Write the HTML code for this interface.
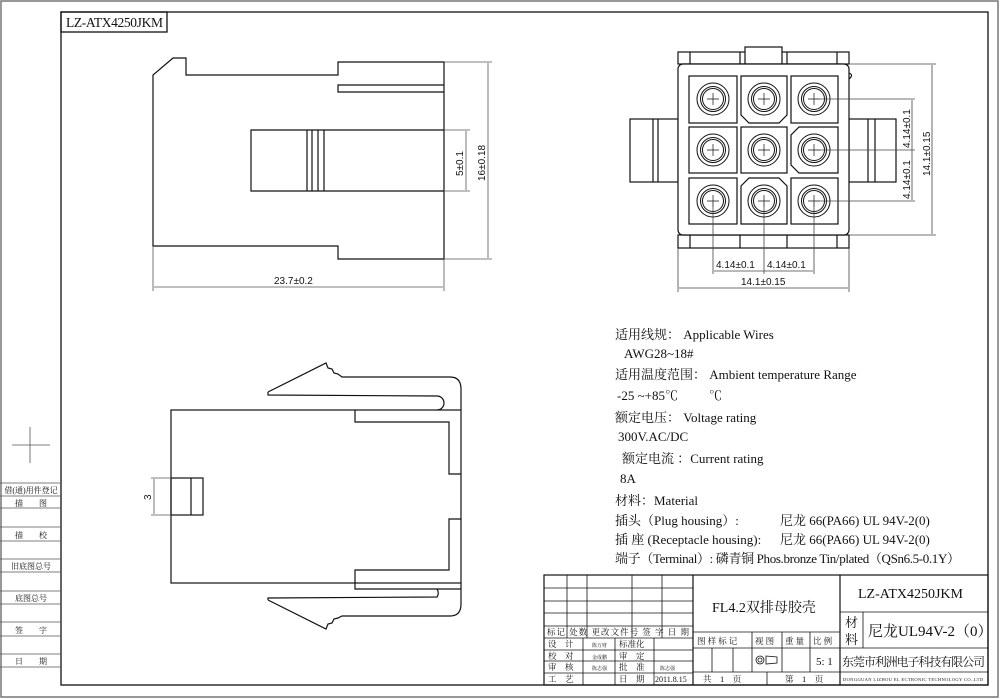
<!DOCTYPE html>
<html><head><meta charset="utf-8"><style>
html,body{margin:0;padding:0;background:#fff;}
svg{display:block;}
text{font-family:"Liberation Serif","Noto Serif CJK SC","Noto Sans CJK SC",serif;fill:#111;}
.s{font-family:"Liberation Sans",sans-serif;}
</style></head><body>
<svg width="1000" height="699" viewBox="0 0 1000 699" xmlns="http://www.w3.org/2000/svg">
<defs>
<g id="c" fill="none" stroke="#111" stroke-width="1"><circle r="16"/><circle r="12.5"/><circle r="10.5"/><path d="M-6,0 H6 M0,-6 V6" stroke-width="0.7"/></g>
</defs>
<g fill="none" stroke="#777" stroke-width="1.5">
<rect x="1" y="1" width="997" height="696"/>
</g>
<g fill="none" stroke="#111" stroke-width="1.3">
<rect x="61" y="12" width="927" height="673"/>
<rect x="61" y="12" width="106" height="20"/>
</g>
<text x="66" y="27" font-size="13.5" textLength="97">LZ-ATX4250JKM</text>

<!-- left strip -->
<g stroke="#555" stroke-width="0.8" fill="none">
<line x1="30" y1="427" x2="30" y2="463"/><line x1="12" y1="445" x2="50" y2="445"/>
<line x1="0" y1="483" x2="61" y2="483"/><line x1="0" y1="496" x2="61" y2="496"/><line x1="0" y1="508" x2="61" y2="508"/>
<line x1="0" y1="527" x2="61" y2="527"/><line x1="0" y1="541" x2="61" y2="541"/>
<line x1="0" y1="559" x2="61" y2="559"/><line x1="0" y1="572" x2="61" y2="572"/>
<line x1="0" y1="591" x2="61" y2="591"/><line x1="0" y1="604" x2="61" y2="604"/>
<line x1="0" y1="622" x2="61" y2="622"/><line x1="0" y1="636" x2="61" y2="636"/>
<line x1="0" y1="654" x2="61" y2="654"/><line x1="0" y1="667" x2="61" y2="667"/>
</g>
<g font-size="8" text-anchor="middle">
<text x="31" y="493">借(通)用件登记</text><text x="31" y="506">描　　图</text>
<text x="31" y="538">描　　校</text><text x="31" y="569">旧底图总号</text>
<text x="31" y="601">底图总号</text><text x="31" y="633">签　　字</text>
<text x="31" y="664">日　　期</text>
</g>

<!-- top-left view -->
<g fill="none" stroke="#111" stroke-width="1.2">
<path d="M153,246 L153,75 L173,58 L186,58 L186,75 L338,75 L338,62 L444,62 L444,259 L338,259 L338,246 Z"/>
<path d="M444,85 L338,85 L338,92 L444,92"/>
<path d="M444,130 L251,130 L251,191 L444,191"/>
<line x1="307" y1="130" x2="307" y2="191"/><line x1="312" y1="130" x2="312" y2="191"/>
<line x1="318" y1="130" x2="318" y2="191"/><line x1="324" y1="130" x2="324" y2="191"/>
</g>
<g fill="none" stroke="#555" stroke-width="0.8">
<line x1="444" y1="130" x2="470" y2="130"/><line x1="444" y1="191" x2="470" y2="191"/>
<line x1="466" y1="131" x2="466" y2="190"/>
<line x1="444" y1="62" x2="492" y2="62"/><line x1="444" y1="259" x2="492" y2="259"/>
<line x1="488" y1="63" x2="488" y2="258"/>
<line x1="153" y1="246" x2="153" y2="291"/><line x1="444" y1="259" x2="444" y2="291"/>
<line x1="154" y1="287" x2="443" y2="287"/>
</g>
<g font-size="10">
<text class="s" x="274" y="284">23.7±0.2</text>
<text class="s" transform="translate(463,176) rotate(-90)">5±0.1</text>
<text class="s" transform="translate(485,181) rotate(-90)">16±0.18</text>
</g>

<!-- front view -->
<g fill="none" stroke="#111" stroke-width="1.2">
<rect x="678" y="52" width="171" height="12"/>
<line x1="690" y1="52" x2="690" y2="64"/><line x1="740" y1="52" x2="740" y2="64"/>
<line x1="787" y1="52" x2="787" y2="64"/><line x1="837" y1="52" x2="837" y2="64"/>
<rect x="745" y="47" width="37" height="17" fill="#fff"/>
<rect x="678" y="235" width="171" height="13"/>
<line x1="690" y1="235" x2="690" y2="248"/><line x1="740" y1="235" x2="740" y2="248"/>
<line x1="787" y1="235" x2="787" y2="248"/><line x1="837" y1="235" x2="837" y2="248"/>
<rect x="630" y="119" width="48" height="63"/>
<line x1="653" y1="119" x2="653" y2="182"/><line x1="658" y1="119" x2="658" y2="182"/>
<rect x="849" y="119" width="47" height="63"/>
<line x1="868" y1="119" x2="868" y2="182"/><line x1="875" y1="119" x2="875" y2="182"/>
<rect x="678" y="64" width="171" height="171" rx="5" fill="#fff"/>
<path d="M849,73 q5,2 0,6"/>
<rect x="689" y="76" width="48" height="47"/>
<path d="M741,76 L787,76 L787,115 L779,123 L749,123 L741,115 Z"/>
<rect x="791" y="76" width="47" height="47"/>
<rect x="689" y="127" width="48" height="46"/>
<rect x="741" y="127" width="46" height="46"/>
<path d="M799,127 L838,127 L838,173 L799,173 L791,165 L791,135 Z"/>
<rect x="689" y="178" width="48" height="46"/>
<path d="M749,178 L779,178 L787,186 L787,224 L741,224 L741,186 Z"/>
<rect x="791" y="178" width="47" height="46"/>
</g>
<use href="#c" x="713" y="99"/><use href="#c" x="764" y="99"/><use href="#c" x="814" y="99"/>
<use href="#c" x="713" y="150"/><use href="#c" x="764" y="150"/><use href="#c" x="814" y="150"/>
<use href="#c" x="713" y="201"/><use href="#c" x="764" y="201"/><use href="#c" x="814" y="201"/>
<g fill="none" stroke="#444" stroke-width="0.8">
<line x1="814" y1="99" x2="915" y2="99"/><line x1="814" y1="150" x2="915" y2="150"/><line x1="814" y1="201" x2="915" y2="201"/>
<line x1="912" y1="100" x2="912" y2="200"/>
<line x1="849" y1="64" x2="936" y2="64"/><line x1="849" y1="235" x2="936" y2="235"/>
<line x1="932" y1="65" x2="932" y2="234"/>
<line x1="713" y1="201" x2="713" y2="274"/><line x1="764" y1="201" x2="764" y2="274"/><line x1="814" y1="201" x2="814" y2="274"/>
<line x1="714" y1="271" x2="813" y2="271"/>
<line x1="678" y1="248" x2="678" y2="292"/><line x1="849" y1="248" x2="849" y2="292"/>
<line x1="679" y1="288" x2="848" y2="288"/>
</g>
<g font-size="10">
<text class="s" x="716" y="268">4.14±0.1</text>
<text class="s" x="767" y="268">4.14±0.1</text>
<text class="s" x="741" y="285">14.1±0.15</text>
<text class="s" transform="translate(910,148) rotate(-90)">4.14±0.1</text>
<text class="s" transform="translate(910,199) rotate(-90)">4.14±0.1</text>
<text class="s" transform="translate(930,176) rotate(-90)">14.1±0.15</text>
</g>

<!-- bottom view -->
<g fill="none" stroke="#111" stroke-width="1.2">
<rect x="171" y="410" width="290" height="173"/>
<path d="M355,410 L355,422 L449,422 L449,474 L461,474"/>
<path d="M461,519 L449,519 L449,570 L355,570 L355,589 L461,589"/>
<path d="M268,392 L326,363 L328,368 L332,369 L334,373 L338,374 L342,377 L450,377 Q461,377 461,389 L461,410"/>
<path d="M268,392 L268,395 L437,396 A7,7 0 0 1 437,410"/>
<path d="M268,600 L326,629 L328,624 L332,623 L334,619 L338,618 L342,616 L450,616 Q461,616 461,604 L461,583"/>
<path d="M268,600 L268,598 L437,597 A7,7 0 0 0 437,589"/>
<rect x="171" y="478" width="32" height="37"/>
<line x1="191" y1="478" x2="191" y2="515"/>
</g>
<g stroke="#555" stroke-width="0.8">
<line x1="151" y1="478" x2="171" y2="478"/><line x1="151" y1="515" x2="171" y2="515"/>
<line x1="154" y1="479" x2="154" y2="514"/>
</g>
<text class="s" font-size="10" transform="translate(151,500) rotate(-90)">3</text>

<!-- specs -->
<g font-size="13">
<text x="615" y="339">适用线规：  Applicable Wires</text>
<text x="624" y="358">AWG28~18#</text>
<text x="615" y="379">适用温度范围：  Ambient temperature Range</text>
<text x="617" y="400">-25 ~+85℃</text><text x="709" y="400">℃</text>
<text x="615" y="422">额定电压：  Voltage rating</text>
<text x="618" y="441">300V.AC/DC</text>
<text x="622" y="463">额定电流 ：Current rating</text>
<text x="620" y="483">8A</text>
<text x="615" y="505">材料：Material</text>
<text x="615" y="525">插头（Plug housing）:</text>
<text x="780" y="525">尼龙 66(PA66)   UL 94V-2(0)</text>
<text x="615" y="544">插 座 (Receptacle  housing):</text>
<text x="780" y="544">尼龙 66(PA66)   UL 94V-2(0)</text>
<text x="615" y="563" textLength="345">端子（Terminal）:  磷青铜 Phos.bronze Tin/plated（QSn6.5-0.1Y）</text>
</g>

<!-- title block -->
<g fill="none" stroke="#111" stroke-width="1.2">
<rect x="544" y="575" width="444" height="110"/>
<line x1="693" y1="575" x2="693" y2="685"/>
<line x1="840" y1="575" x2="840" y2="685"/>
</g>
<g fill="none" stroke="#111" stroke-width="0.8">
<line x1="544" y1="588" x2="693" y2="588"/><line x1="544" y1="601" x2="693" y2="601"/>
<line x1="544" y1="613" x2="693" y2="613"/><line x1="544" y1="626" x2="693" y2="626"/>
<line x1="544" y1="638" x2="693" y2="638"/><line x1="544" y1="650" x2="693" y2="650"/>
<line x1="544" y1="661" x2="693" y2="661"/><line x1="544" y1="673" x2="693" y2="673"/>
<line x1="567" y1="575" x2="567" y2="638"/><line x1="587" y1="575" x2="587" y2="638"/>
<line x1="632" y1="575" x2="632" y2="638"/><line x1="662" y1="575" x2="662" y2="638"/>
<line x1="583" y1="638" x2="583" y2="685"/><line x1="615" y1="638" x2="615" y2="685"/>
<line x1="654" y1="638" x2="654" y2="685"/>
<line x1="693" y1="632" x2="840" y2="632"/><line x1="693" y1="648" x2="840" y2="648"/>
<line x1="693" y1="672" x2="840" y2="672"/>
<line x1="752" y1="632" x2="752" y2="672"/><line x1="782" y1="632" x2="782" y2="672"/>
<line x1="810" y1="632" x2="810" y2="672"/>
<line x1="712" y1="648" x2="712" y2="672"/><line x1="733" y1="648" x2="733" y2="672"/>
<line x1="767" y1="672" x2="767" y2="685"/>
<line x1="840" y1="612" x2="988" y2="612"/><line x1="840" y1="648" x2="988" y2="648"/>
<line x1="840" y1="672" x2="988" y2="672"/>
<line x1="863" y1="612" x2="863" y2="648"/>
<circle cx="760" cy="660" r="4"/><circle cx="760" cy="660" r="2"/>
<path d="M766,656 L777,657 L777,663 L766,664 Z"/>
</g>
<g font-size="8.5">
<text x="547" y="635" textLength="142">标记 处数 更改文件号  签 字   日 期</text>
<text x="548" y="647">设　计</text><text x="592" y="647" font-size="5">陈万财</text><text x="619" y="647">标准化</text>
<text x="548" y="659">校　对</text><text x="592" y="659" font-size="5">金成鹏</text><text x="619" y="659">审　定</text>
<text x="548" y="670">审　核</text><text x="592" y="670" font-size="5">陈志强</text><text x="619" y="670">批　准</text><text x="660" y="670" font-size="5">陈志强</text>
<text x="548" y="682">工　艺</text><text x="619" y="682">日　期</text><text x="655" y="682" font-size="8">2011.8.15</text>
<text x="697" y="644">图 样 标 记</text><text x="755" y="644">视 图</text><text x="785" y="644">重 量</text><text x="813" y="644">比 例</text>
<text x="703" y="682">共　1　页</text><text x="785" y="682">第　1　页</text>
</g>
<text x="816" y="665" font-size="11">5: 1</text>
<text x="712" y="612" font-size="14">FL4.2双排母胶壳</text>
<text x="858" y="598" font-size="14">LZ-ATX4250JKM</text>
<text x="845" y="627" font-size="13">材</text><text x="845" y="644" font-size="13">料</text>
<text x="868" y="636" font-size="15">尼龙UL94V-2（0）</text>
<text x="842" y="666" font-size="12" textLength="143">东莞市利洲电子科技有限公司</text>
<text x="843" y="681" font-size="4.5" textLength="140">DONGGUAN LIZHOU EL ECTRONIC TECHNOLOGY CO.,LTD</text>
</svg>
</body></html>
